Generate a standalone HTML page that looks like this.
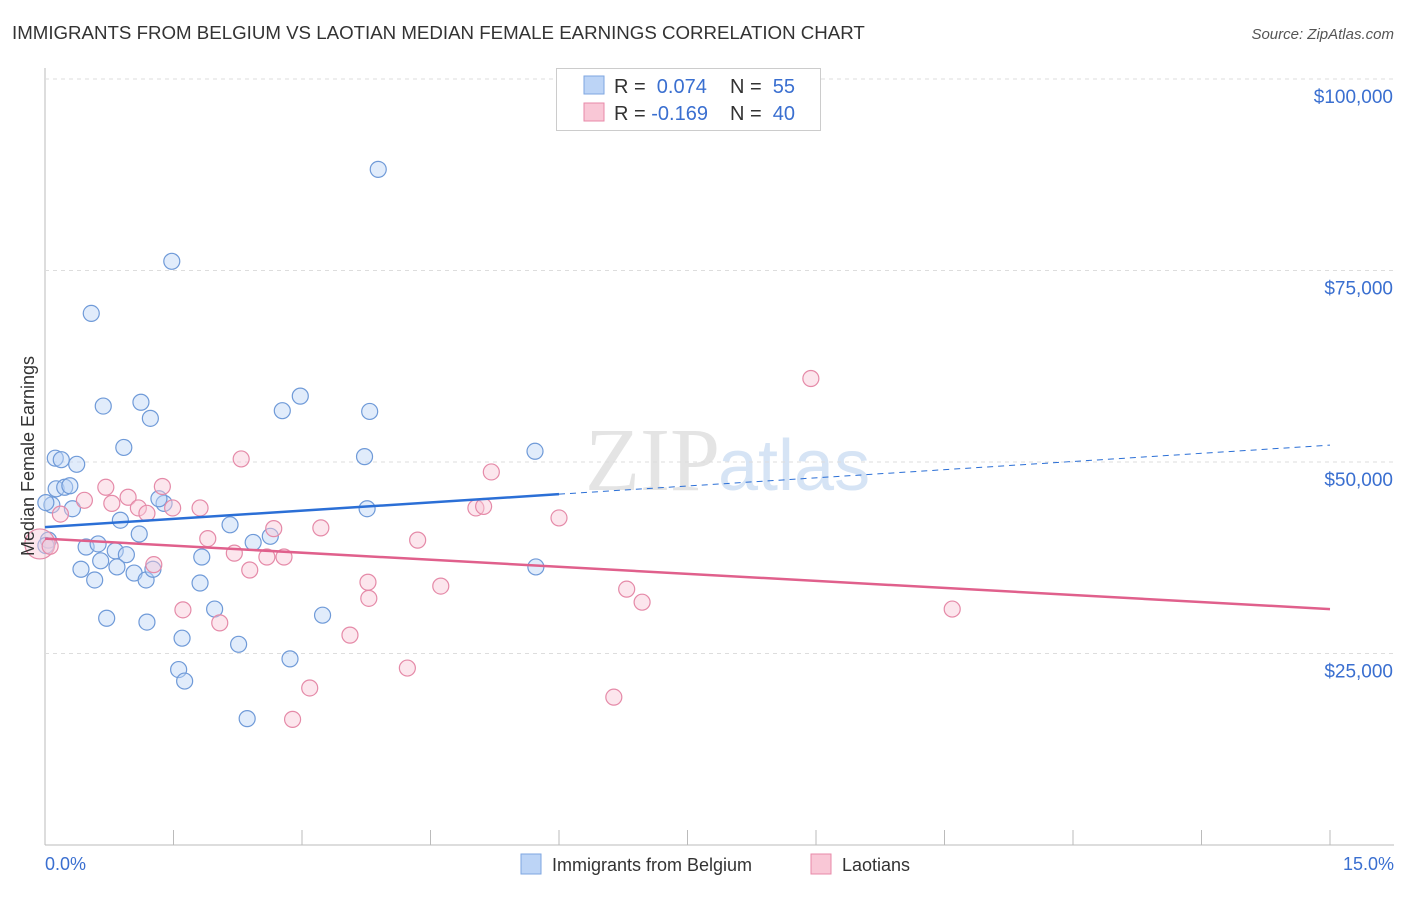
<!DOCTYPE html>
<html><head><meta charset="utf-8"><style>
body{margin:0;background:#fff;font-family:"Liberation Sans",sans-serif}
</style></head><body>
<svg id="c" width="1406" height="892" xmlns="http://www.w3.org/2000/svg">
<text x="12" y="39" font-size="18.7" fill="#333">IMMIGRANTS FROM BELGIUM VS LAOTIAN MEDIAN FEMALE EARNINGS CORRELATION CHART</text>
<text x="1394" y="39" font-size="15" fill="#555" font-style="italic" text-anchor="end">Source: ZipAtlas.com</text>
<text x="720" y="490" font-size="90" fill="#e4e4e4" font-family="Liberation Serif" text-anchor="end">ZIP</text>
<text x="718" y="490" font-size="72" fill="#d6e4f5">atlas</text>
<g id="grid"></g><g id="marks"></g>
<text transform="translate(34,456) rotate(-90)" font-size="18" fill="#333" text-anchor="middle">Median Female Earnings</text>
<text x="45" y="870" font-size="18" fill="#3a6fd0">0.0%</text>
<text x="1394" y="870" font-size="18" fill="#3a6fd0" text-anchor="end">15.0%</text>
<g>
<rect x="556.5" y="68.5" width="264" height="62" fill="#fff" stroke="#ccc"/>
<rect x="584" y="76" width="20" height="18" fill="#bcd4f6" stroke="#7ea6e0"/>
<rect x="584" y="103" width="20" height="18" fill="#f9c7d6" stroke="#e88aa8"/>
<text x="614" y="93" font-size="20" fill="#333">R = <tspan fill="#3a6fd0">&#160;0.074</tspan><tspan x="730">N = </tspan><tspan fill="#3a6fd0">&#160;55</tspan></text>
<text x="614" y="120" font-size="20" fill="#333">R = <tspan fill="#3a6fd0">-0.169</tspan><tspan x="730">N = </tspan><tspan fill="#3a6fd0">&#160;40</tspan></text>
</g>
<g>
<rect x="521" y="854" width="20" height="20" fill="#bcd4f6" stroke="#7ea6e0"/>
<text x="552" y="871" font-size="18" fill="#333">Immigrants from Belgium</text>
<rect x="811" y="854" width="20" height="20" fill="#f9c7d6" stroke="#e88aa8"/>
<text x="842" y="871" font-size="18" fill="#333">Laotians</text>
</g>
</svg>
<script>
const yTicks=[25000,50000,75000,100000];
const yTickLabels=["$25,000","$50,000","$75,000","$100,000"];
const blueX=[3.89,1.48,0.54,0.68,1.12,1.23,2.77,2.98,3.79,0.92,0.12,0.19,0.37,3.73,5.72,0.13,0.23,0.29,0.32,0.08,0.88,1.39,1.33,2.16,1.10,2.63,2.43,3.76,0.48,0.62,0.82,0.95,0.65,0.84,0.42,1.04,1.18,0.58,1.26,1.83,1.81,0.04,1.98,0.72,1.19,1.60,2.26,3.24,2.86,1.56,1.63,2.36,5.73,0.01,0.01];
const blueY=[88200,76200,69400,57300,57800,55700,56700,58600,56600,51900,50500,50300,49700,50700,51400,46500,46700,46900,43900,44400,42400,44600,45200,41800,40600,40300,39500,43900,38900,39300,38400,37900,37100,36300,36000,35500,34600,34600,36000,37600,34200,39800,30800,29600,29100,27000,26200,30000,24300,22900,21400,16500,36300,44700,39100];
const pinkX=[8.94,2.29,5.21,1.37,0.71,0.46,0.97,0.78,1.09,1.19,1.81,1.49,0.18,5.03,5.12,6.00,2.67,1.90,3.22,4.35,2.21,2.59,2.79,2.39,1.27,-0.06,3.77,4.62,3.78,6.79,6.97,10.59,1.61,2.04,3.56,4.23,3.09,2.89,6.64,0.06];
const pinkY=[60900,50400,48700,46800,46700,45000,45400,44600,44000,43300,44000,44000,43200,44000,44200,42700,41300,40000,41400,39800,38100,37600,37600,35900,36600,39300,34300,33800,32200,33400,31700,30800,30700,29000,27400,23100,20500,16400,19300,39000];
const pinkBig=[25];
const blueTrend=[41500,45800,52200];const blueTrendX=[0,6,15];
const pinkTrend=[40000,30800];const pinkTrendX=[0,15];
const NS="http://www.w3.org/2000/svg";
const X=v=>45+v*(1285/15), Y=v=>845-v*(766/100000);
const grid=document.getElementById('grid'),marks=document.getElementById('marks');
function mk(p,tag,a){const e=document.createElementNS(NS,tag);for(const k in a)e.setAttribute(k,a[k]);p.appendChild(e);return e;}
let ax=mk(grid,'line',{x1:45,y1:68,x2:45,y2:845,stroke:'#bbb'});


let bx=mk(grid,'line',{x1:45,y1:845,x2:1394,y2:845,stroke:'#bbb'});


for(let i=0;i<=10;i++){let t=mk(grid,'line',{x1:X(i*1.5),x2:X(i*1.5),y1:830,y2:845,stroke:'#bbb'});

}
yTicks.forEach((v,i)=>{let g=mk(grid,'line',{x1:45,x2:1394,y1:Y(v),y2:Y(v),stroke:'#ddd','stroke-dasharray':'4,4'});


let t=mk(grid,'text',{x:1393,y:Y(v)+24,'font-size':19,fill:'#3a6fd0','text-anchor':'end'});t.textContent=yTickLabels[i];

});
function pts(xs,ys,big,fill,stroke,name){xs.forEach((x,i)=>{let c=mk(marks,'circle',{cx:X(x),cy:Y(ys[i]),r:(big.includes(i)?15:8),fill:fill,'fill-opacity':0.45,stroke:stroke,'stroke-width':1.2});

});}
pts(blueX,blueY,[],'#bcd4f6','#6f9ad8','belgium-point');
pts(pinkX,pinkY,pinkBig,'#f9c7d6','#e58aa8','laotian-point');
let l1=mk(marks,'line',{x1:X(blueTrendX[0]),y1:Y(blueTrend[0]),x2:X(blueTrendX[1]),y2:Y(blueTrend[1]),stroke:'#2b6fd6','stroke-width':2.5});


let l2=mk(marks,'line',{x1:X(blueTrendX[1]),y1:Y(blueTrend[1]),x2:X(blueTrendX[2]),y2:Y(blueTrend[2]),stroke:'#2b6fd6','stroke-width':1,'stroke-dasharray':'6,5'});


let l3=mk(marks,'line',{x1:X(pinkTrendX[0]),y1:Y(pinkTrend[0]),x2:X(pinkTrendX[1]),y2:Y(pinkTrend[1]),stroke:'#e0608c','stroke-width':2.5});


</script>
</body></html>
